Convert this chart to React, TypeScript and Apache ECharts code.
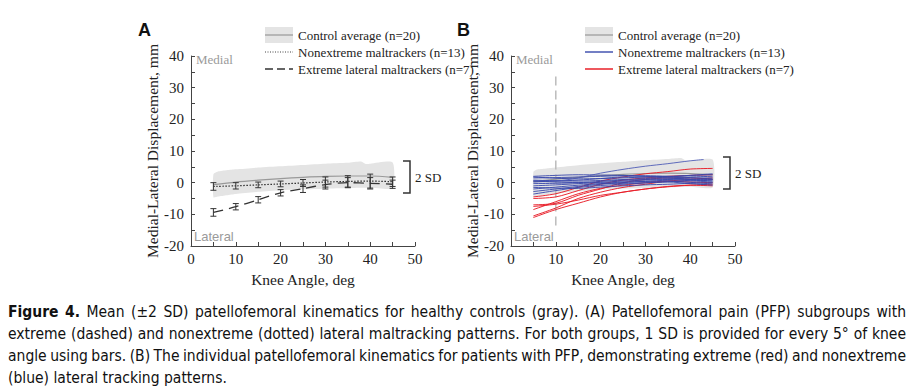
import React, { useEffect, useRef } from "react";
import * as echarts from "echarts";

// ---------- data ----------
const xTicks = [0, 10, 20, 30, 40, 50];
const angles = [5, 10, 15, 20, 25, 30, 35, 40, 45];
const bandAngles = [5, 6, 8, 10, 15, 20, 25, 30, 35, 38, 39, 40, 45];

const bandUpperA = [2.6, 3.5, 3.9, 4.2, 4.8, 5.2, 5.6, 6.0, 6.3, 6.7, 5.9, 6.0, 6.4];
const bandLowerA = [-4.6, -4.4, -4.0, -3.6, -2.9, -2.4, -2.1, -1.9, -1.7, -1.6, -1.6, -1.5, -1.7];
const bandUpperB = [3.4, 4.2, 4.5, 4.8, 5.5, 6.1, 6.6, 7.1, 7.5, 7.8, 7.0, 7.0, 7.3];
const bandLowerB = [-4.4, -4.2, -3.8, -3.4, -2.7, -2.2, -1.9, -1.7, -1.5, -1.4, -1.4, -1.3, -1.5];

const controlMeanA = [-0.6, 0.2, 0.8, 1.3, 1.7, 2.0, 2.1, 2.1, 1.7];
const controlMeanB = [0.3, 1.1, 1.7, 2.2, 2.6, 2.9, 3.0, 2.9, 2.5];

const nonextremeMean = [-1.2, -1.0, -0.7, -0.4, -0.1, 0.2, 0.4, 0.5, 0.3];
const nonextremeSD = [1.2, 1.0, 0.9, 0.9, 1.1, 1.6, 1.8, 2.2, 1.5];
const extremeMean = [-9.4, -7.6, -5.4, -3.2, -1.9, -0.6, 0.0, -0.2, -0.5];
const extremeSD = [1.2, 1.0, 1.0, 1.0, 1.2, 1.4, 1.6, 1.8, 1.3];

const topBlueAngles = [5, 10, 15, 20, 25, 30, 35, 40, 43];
const topBlue = [0.6, 0.6, 1.5, 3.0, 4.2, 5.2, 6.0, 6.9, 7.3];
const blueLines = [
  [1.8, 1.4, 1.2, 1.3, 1.5, 1.8, 2.0, 2.3, 2.5],
  [1.5, 1.6, 1.8, 2.0, 2.2, 2.2, 2.0, 1.6, 1.2],
  [0.8, 0.6, 0.5, 0.7, 1.0, 1.3, 1.5, 1.8, 2.0],
  [0.2, 0.5, 0.8, 1.3, 1.8, 1.8, 1.5, 1.0, 0.5],
  [-0.3, -0.2, 0.0, 0.4, 0.8, 1.0, 1.2, 1.4, 1.5],
  [-1.0, -0.7, -0.3, 0.1, 0.5, 0.8, 1.0, 0.6, 0.2],
  [-2.0, -1.4, -0.8, -0.3, 0.2, 0.4, 0.5, 0.1, -0.4],
  [-2.8, -2.0, -1.2, -0.5, 0.0, 0.4, 0.8, 1.0, 1.0],
  [-3.6, -2.5, -1.5, -0.9, -0.5, -0.1, 0.2, -0.3, -0.8],
  [0.5, 0.2, 0.0, -0.1, -0.2, 0.0, 0.3, 0.6, 0.8],
  [2.0, 2.3, 2.5, 2.4, 2.3, 2.0, 1.8, 2.3, 2.8],
  [-1.5, -1.7, -1.8, -1.4, -1.0, -0.7, -0.5, -0.2, 0.0],
];
const redLines = [
  [-4.5, -3.5, -1.5, 0.5, 1.8, 2.8, 3.5, 4.3, 4.5],
  [-5.0, -4.5, -2.5, -0.5, 0.8, 1.5, 2.0, 2.3, 2.5],
  [-7.0, -6.5, -4.0, -2.0, 0.0, 1.0, 1.5, 1.5, 1.0],
  [-7.5, -6.8, -5.5, -4.0, -3.0, -2.0, -1.3, -0.8, -0.5],
  [-8.5, -6.0, -3.5, -1.8, -0.8, 0.0, 0.5, 0.2, 0.0],
  [-10.5, -8.0, -5.0, -3.0, -1.5, -0.5, 0.5, 1.0, 1.5],
  [-11.0, -8.5, -6.5, -4.5, -3.0, -2.0, -1.2, -0.8, -1.0],
];
const lateralLineX = [10, 10];
const lateralLineY = [-13.5, 35];

const legendLabels = [
  "Control average (n=20)",
  "Nonextreme maltrackers (n=13)",
  "Extreme lateral maltrackers (n=7)",
];
const captionLines = [
  "Figure 4. Mean (±2 SD) patellofemoral kinematics for healthy controls (gray). (A) Patellofemoral pain (PFP) subgroups with",
  "extreme (dashed) and nonextreme (dotted) lateral maltracking patterns. For both groups, 1 SD is provided for every 5° of knee",
  "angle using bars. (B) The individual patellofemoral kinematics for patients with PFP, demonstrating extreme (red) and nonextreme",
  "(blue) lateral tracking patterns.",
];
const captionBoldWords = 2;

// ---------- styles ----------
const SERIF = "'Liberation Serif', 'Times New Roman', serif";
const SANS = "'Liberation Sans', Arial, sans-serif";
const NARROW = "'DejaVu Sans Condensed', 'Liberation Sans Narrow', sans-serif";
const CAP_SIZE = 15.5;
const CAP_LEFT = 8;
const CAP_RIGHT = 906;
const captionY = [312, 334, 356, 378];
const BAND = "#e4e4e4";
const BLUE = "rgba(55,70,170,0.9)";
const RED = "rgba(232,30,40,0.95)";

const pairs = (xs: number[], ys: number[]) => xs.map((x, i) => [x, ys[i]]);

function bandSeries(idx: number, up: number[], lo: number[]) {
  return {
    type: "custom",
    xAxisIndex: idx,
    yAxisIndex: idx,
    silent: true,
    z: 1,
    data: [[bandAngles[0], up[0]]],
    renderItem: (_p: any, api: any) => {
      const top = bandAngles.map((x, i) => api.coord([x, up[i]]));
      const bot = bandAngles.map((x, i) => api.coord([x, lo[i]])).reverse();
      return { type: "polygon", shape: { points: top.concat(bot), smooth: 0.2 }, style: { fill: BAND } };
    },
  };
}

function errSeries(idx: number, mean: number[], sd: number[]) {
  return {
    type: "custom",
    xAxisIndex: idx,
    yAxisIndex: idx,
    silent: true,
    z: 4,
    encode: { x: 0, y: [1, 2] },
    data: angles.map((x, i) => [x, mean[i] - sd[i], mean[i] + sd[i]]),
    renderItem: (_p: any, api: any) => {
      const x = api.value(0);
      const a = api.coord([x, api.value(2)]);
      const b = api.coord([x, api.value(1)]);
      const w = 3;
      const st = { stroke: "#333", lineWidth: 1 };
      return {
        type: "group",
        children: [
          { type: "line", shape: { x1: a[0], y1: a[1], x2: b[0], y2: b[1] }, style: st },
          { type: "line", shape: { x1: a[0] - w, y1: a[1], x2: a[0] + w, y2: a[1] }, style: st },
          { type: "line", shape: { x1: b[0] - w, y1: b[1], x2: b[0] + w, y2: b[1] }, style: st },
        ],
      };
    },
  };
}

function lineSeries(idx: number, xs: number[], ys: number[], color: string, width: number, type: any, z = 3) {
  return {
    type: "line",
    xAxisIndex: idx,
    yAxisIndex: idx,
    data: pairs(xs, ys),
    showSymbol: false,
    smooth: 0.3,
    silent: true,
    z,
    lineStyle: { color, width, type },
  };
}

function axisPair(idx: number) {
  const common = {
    axisLine: { show: true, onZero: false, lineStyle: { color: "#444", width: 1 } },
    axisTick: { show: true, inside: true, length: 4, lineStyle: { color: "#444" } },
    minorTick: { show: true, splitNumber: 2, length: 4, lineStyle: { color: "#444" } },
    splitLine: { show: false },
    axisLabel: { fontFamily: SERIF, fontSize: 15, color: "#222" },
  };
  return {
    x: {
      ...common,
      gridIndex: idx,
      type: "value",
      min: xTicks[0],
      max: xTicks[xTicks.length - 1],
      interval: 10,
      name: "Knee Angle, deg",
      nameLocation: "middle",
      nameGap: 25,
      nameTextStyle: { fontFamily: SERIF, fontSize: 15.5, color: "#222" },
      axisLabel: { ...common.axisLabel, margin: 5 },
    },
    y: {
      ...common,
      gridIndex: idx,
      type: "value",
      min: -20,
      max: 40,
      interval: 10,
      name: "Medial-Lateral Displacement, mm",
      nameLocation: "middle",
      nameGap: 30,
      nameTextStyle: { fontFamily: SERIF, fontSize: 15.5, color: "#222" },
      axisLabel: { ...common.axisLabel, margin: 7 },
    },
  };
}

function legendGraphics(ox: number, second: any, third: any, labels: string[]) {
  const tx = ox + 33;
  const txt = (y: number, s: string) => ({
    type: "text",
    x: tx,
    y,
    style: { text: s, fontFamily: SERIF, fontSize: 13, fill: "#222", textVerticalAlign: "middle" },
  });
  return [
    { type: "rect", shape: { x: ox, y: 27, width: 28, height: 16 }, style: { fill: BAND } },
    { type: "line", shape: { x1: ox, y1: 35, x2: ox + 28, y2: 35 }, style: { stroke: "#888", lineWidth: 1 } },
    { type: "line", shape: { x1: ox, y1: 52, x2: ox + 28, y2: 52 }, style: second },
    { type: "line", shape: { x1: ox, y1: 69, x2: ox + 28, y2: 69 }, style: third },
    txt(35, labels[0]),
    txt(52, labels[1]),
    txt(69, labels[2]),
  ];
}

function captionGraphics(): any[] {
  const canvas = document.createElement("canvas");
  const ctx = canvas.getContext("2d")!;
  const fontOf = (bold: boolean) => `${bold ? "bold " : ""}${CAP_SIZE}px ${NARROW}`;
  const out: any[] = [];
  captionLines.forEach((line, li) => {
    const words = line.split(" ");
    const bolds = words.map((_, wi) => li === 0 && wi < captionBoldWords);
    const widths = words.map((w, wi) => {
      ctx.font = fontOf(bolds[wi]);
      return ctx.measureText(w).width;
    });
    ctx.font = fontOf(false);
    const space = ctx.measureText(" ").width;
    const total = widths.reduce((s, v) => s + v, 0);
    const justify = li < captionLines.length - 1 && words.length > 1;
    const gap = justify ? (CAP_RIGHT - CAP_LEFT - total) / (words.length - 1) : space;
    let x = CAP_LEFT;
    words.forEach((w, wi) => {
      out.push({
        type: "text",
        x,
        y: captionY[li],
        style: {
          text: w,
          fontFamily: NARROW,
          fontSize: CAP_SIZE,
          fontWeight: bolds[wi] ? "bold" : "normal",
          fill: "#111",
          textVerticalAlign: "middle",
        },
      });
      x += widths[wi] + gap;
    });
  });
  return out;
}

export default function App() {
  const ref = useRef<HTMLDivElement>(null);
  useEffect(() => {
    document.body.style.margin = "0";
    const chart = echarts.init(ref.current!, undefined, { renderer: "svg" });
    const a = axisPair(0);
    const b = axisPair(1);

    const series: any[] = [
      bandSeries(0, bandUpperA, bandLowerA),
      lineSeries(0, angles, controlMeanA, "#999", 1.2, "solid"),
      lineSeries(0, angles, nonextremeMean, "#333", 1.2, [1.5, 1.5]),
      lineSeries(0, angles, extremeMean, "#333", 1.3, [10, 6]),
      errSeries(0, nonextremeMean, nonextremeSD),
      errSeries(0, extremeMean, extremeSD),
      bandSeries(1, bandUpperB, bandLowerB),
      lineSeries(1, angles, controlMeanB, "#999", 1.2, "solid"),
      { ...lineSeries(1, lateralLineX, lateralLineY, "#bbb", 1.5, [9, 5], 2), smooth: false },
      ...redLines.map((r) => lineSeries(1, angles, r, RED, 1, "solid")),
      ...blueLines.map((r) => lineSeries(1, angles, r, BLUE, 1, "solid", 4)),
      lineSeries(1, topBlueAngles, topBlue, "rgba(70,85,180,0.85)", 1, "solid", 4),
    ];

    const grayText = (x: number, y: number, s: string, ff: string) => ({
      type: "text",
      x,
      y,
      style: { text: s, fontFamily: ff, fontSize: 13, fill: "#9a9a9a", textVerticalAlign: "middle" },
    });
    const bracket = (x: number, y1: number, y2: number) => ({
      type: "polyline",
      shape: { points: [[x - 7, y1], [x, y1], [x, y2], [x - 7, y2]] },
      style: { stroke: "#333", lineWidth: 1.5, fill: null },
    });
    const sdText = (x: number, y: number) => ({
      type: "text",
      x,
      y,
      style: { text: "2 SD", fontFamily: SERIF, fontSize: 13, fill: "#222", textVerticalAlign: "middle" },
    });

    const graphic: any[] = [
      { type: "text", x: 138, y: 30, style: { text: "A", fontFamily: SANS, fontWeight: "bold", fontSize: 18, fill: "#111", textVerticalAlign: "middle" } },
      { type: "text", x: 457, y: 30, style: { text: "B", fontFamily: SANS, fontWeight: "bold", fontSize: 18, fill: "#111", textVerticalAlign: "middle" } },
      grayText(196, 59, "Medial", SERIF),
      grayText(194, 236, "Lateral", SANS),
      grayText(516, 59, "Medial", SERIF),
      grayText(514, 236, "Lateral", SANS),
      bracket(410, 161, 193),
      sdText(415, 177),
      bracket(730, 157, 189),
      sdText(735, 173),
      ...legendGraphics(265, { stroke: "#444", lineWidth: 1, lineDash: [1, 1.5] }, { stroke: "#333", lineWidth: 1.5, lineDash: [8, 4] }, legendLabels),
      ...legendGraphics(585, { stroke: "#4455b0", lineWidth: 1.5 }, { stroke: "#e82028", lineWidth: 1.5 }, legendLabels),
      ...captionGraphics(),
    ];

    chart.setOption({
      animation: false,
      backgroundColor: "#fff",
      grid: [
        { left: 191, top: 56, width: 224, height: 190 },
        { left: 511, top: 56, width: 224, height: 190 },
      ],
      xAxis: [a.x, b.x],
      yAxis: [a.y, b.y],
      series,
      graphic,
    });
    return () => chart.dispose();
  }, []);
  return <div ref={ref} style={{ width: 919, height: 390 }} />;
}
